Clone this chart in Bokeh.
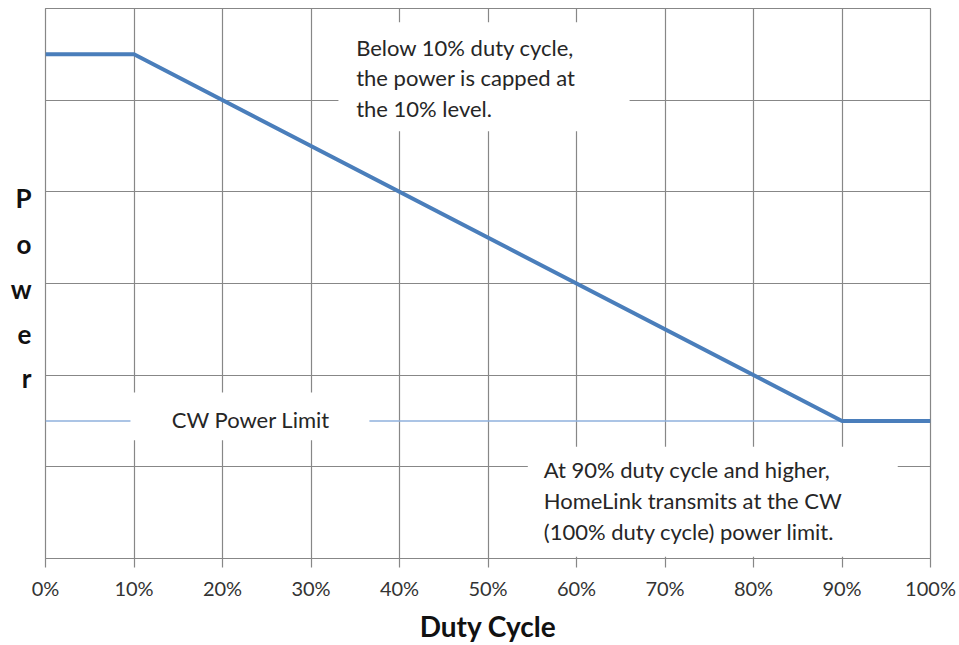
from bokeh.plotting import figure
from bokeh.models import FixedTicker, Range1d, Label, BoxAnnotation
from bokeh.embed import file_html
from bokeh.resources import INLINE

# Data
duty = [0, 10, 90, 100]
power = [5.5, 5.5, 1.5, 1.5]
cw_x = [0, 90]
cw_y = [1.5, 1.5]
x_ticks = [0, 10, 20, 30, 40, 50, 60, 70, 80, 90, 100]
x_tick_labels = ["0%", "10%", "20%", "30%", "40%", "50%", "60%", "70%", "80%", "90%", "100%"]
y_grid = [0, 1, 2, 3, 4, 5, 6]
y_letters = ["P", "o", "w", "e", "r"]
y_letter_pos = [3.93, 3.43, 2.94, 2.45, 1.97]
note_top = ["Below 10% duty cycle,", "the power is capped at", "the 10% level."]
note_cw = "CW Power Limit"
note_bottom = ["At 90% duty cycle and higher,", "HomeLink transmits at the CW", "(100% duty cycle) power limit."]

FONT = "Lato"
GRID = "#878787"
TXT = "#262626"

p = figure(width=959, height=645, output_backend="svg", toolbar_location=None,
           x_range=Range1d(0, 100), y_range=Range1d(0, 6),
           min_border_left=45, min_border_right=29, min_border_top=8, min_border_bottom=86)
p.background_fill_color = "white"
p.border_fill_color = "white"
p.outline_line_color = GRID
p.outline_line_width = 1.2

p.xgrid.ticker = FixedTicker(ticks=x_ticks)
p.ygrid.ticker = FixedTicker(ticks=y_grid)
for g in (p.xgrid, p.ygrid):
    g.grid_line_color = GRID
    g.grid_line_width = 1.2

# y axis used only to show the stacked "Power" letters
yax = p.yaxis[0]
yax.ticker = FixedTicker(ticks=y_letter_pos)
yax.major_label_overrides = {t: l for t, l in zip(y_letter_pos, y_letters)}
yax.axis_line_color = None
yax.major_tick_line_color = None
yax.minor_tick_line_color = None
yax.major_label_text_font = FONT
yax.major_label_text_font_style = "bold"
yax.major_label_text_font_size = "26px"
yax.major_label_text_color = "#111111"
yax.major_label_text_align = "center"
yax.major_label_standoff = 8

ax = p.xaxis[0]
ax.ticker = FixedTicker(ticks=x_ticks)
ax.major_label_overrides = {t: l for t, l in zip(x_ticks, x_tick_labels)}
ax.axis_line_color = GRID
ax.axis_line_width = 1.2
ax.major_tick_line_color = GRID
ax.major_tick_line_width = 1.2
ax.major_tick_out = 9
ax.major_tick_in = 0
ax.minor_tick_line_color = None
ax.major_label_text_font = FONT
ax.major_label_text_font_size = "20px"
ax.major_label_text_color = "#333333"
ax.major_label_standoff = 8
ax.axis_label = "Duty Cycle"
ax.axis_label_text_font = FONT
ax.axis_label_text_font_style = "bold"
ax.axis_label_text_font_size = "28px"
ax.axis_label_text_color = "#111111"
ax.axis_label_standoff = 6

# CW power limit line (thin) and main curve
p.line(cw_x, cw_y, line_color="#8fb0dc", line_width=1.6)

# white text boxes covering gridlines
p.add_layout(BoxAnnotation(left=33.1, right=66.0, bottom=4.66, top=5.85,
                           fill_color="white", fill_alpha=1, line_color=None, level="glyph"))
p.add_layout(BoxAnnotation(left=9.6, right=36.6, bottom=1.29, top=1.81,
                           fill_color="white", fill_alpha=1, line_color=None, level="glyph"))
p.add_layout(BoxAnnotation(left=54.5, right=96.3, bottom=0.02, top=1.22,
                           fill_color="white", fill_alpha=1, line_color=None, level="glyph"))

p.line(duty, power, line_color="#4a7ebb", line_width=4)

def lab(x, y, t, size="22px", align="left"):
    p.add_layout(Label(x=x, y=y, text=t, text_font=FONT, text_font_size=size,
                       text_align=align, text_baseline="middle", text_color=TXT))

for i, t in enumerate(note_top):
    lab(35.1, 5.58 - i * 0.338, t)
lab(23.2, 1.52, note_cw, align="center")
for i, t in enumerate(note_bottom):
    lab(56.3, 0.97 - i * 0.34, t)

open("out.html", "w").write(file_html(p, INLINE))
